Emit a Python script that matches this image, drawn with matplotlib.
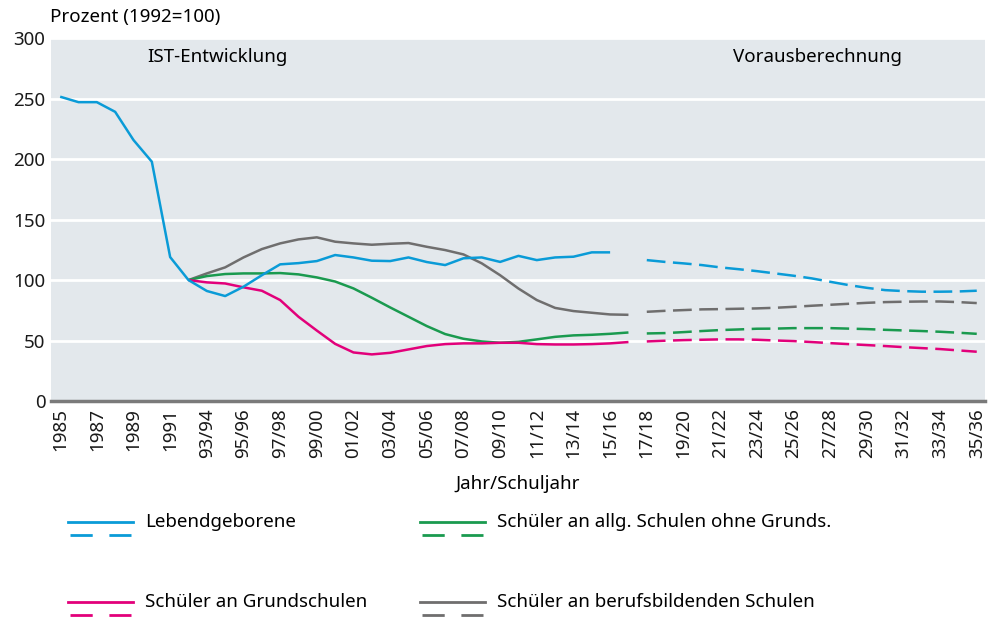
import numpy as np
import matplotlib
matplotlib.use("Agg")
import matplotlib.pyplot as plt
from matplotlib.lines import Line2D

plt.rcParams['font.family'] = ['Noto Sans', 'DejaVu Sans']

# categories: calendar years, then school years
categories = ["1985", "1986", "1987", "1988", "1989", "1990", "1991",
              "92/93", "93/94", "94/95", "95/96", "96/97", "97/98", "98/99",
              "99/00", "00/01", "01/02", "02/03", "03/04", "04/05", "05/06",
              "06/07", "07/08", "08/09", "09/10", "10/11", "11/12", "12/13",
              "13/14", "14/15", "15/16", "16/17", "17/18", "18/19", "19/20",
              "20/21", "21/22", "22/23", "23/24", "24/25", "25/26", "26/27",
              "27/28", "28/29", "29/30", "30/31", "31/32", "32/33", "33/34",
              "34/35", "35/36"]

# actual values (IST)
geb_ist = [251.5, 247, 247, 239, 215.7, 197.8, 119, 100, 91, 86.8, 94.5, 104,
           113, 114, 115.7, 120.7, 118.7, 116, 115.7, 118.7, 114.9, 112.4, 118,
           118.7, 115, 120, 116.5, 118.7, 119.3, 122.9, 122.9]   # 1985 .. 15/16
allg_ist = [100, 103.3, 105, 105.5, 105.5, 105.8, 104.7, 102.2, 98.8, 93.1,
            85.4, 77.4, 69.7, 62, 55.4, 51.5, 49.3, 48.2, 49, 51, 53.1, 54.3,
            54.8, 55.6, 56.7]                                      # 92/93 .. 16/17
grund_ist = [100, 98.1, 97.2, 94, 91.2, 83.5, 69.7, 58.3, 47.3, 40.2, 38.6,
             39.9, 42.7, 45.5, 47.1, 47.7, 47.7, 48.2, 48.2, 47.1, 46.8, 46.8,
             47.1, 47.7, 48.8]
beruf_ist = [100, 105.5, 110.5, 118.7, 125.6, 130.3, 133.6, 135.3, 131.7,
             130.3, 129.2, 130, 130.6, 127.5, 124.8, 121.2, 113.8, 104, 93,
             83.5, 77, 74.4, 73, 71.6, 71.3]

# projection (Vorausberechnung) 17/18 .. 35/36
geb_vb = [116.5, 115, 113.8, 112.4, 110.5, 109, 107.4, 105.5, 103.6, 101.4,
          98.6, 95.9, 93.6, 91.7, 90.9, 90.4, 90.4, 90.6, 91.2]
allg_vb = [55.9, 56.2, 57, 57.9, 58.7, 59.2, 59.8, 59.9, 60.3, 60.3, 60.3,
           59.9, 59.5, 58.9, 58.4, 57.9, 57.3, 56.5, 55.6]
grund_vb = [49.3, 49.9, 50.4, 50.7, 51, 51, 50.7, 50.1, 49.6, 48.8, 47.9,
            47.1, 46.3, 45.5, 44.6, 43.8, 43, 41.9, 40.8]
beruf_vb = [73.8, 74.6, 75.2, 75.8, 76, 76.3, 76.6, 77.1, 77.9, 78.8, 79.6,
            80.4, 81.2, 81.8, 82.1, 82.3, 82.3, 81.8, 81]

labels = ["Lebendgeborene", "Schüler an allg. Schulen ohne Grunds.",
          "Schüler an Grundschulen", "Schüler an berufsbildenden Schulen"]
colors = ["#0a9bd7", "#1a9a4f", "#e2007a", "#6f6e6e"]

x_all = np.arange(len(categories))
i_92 = categories.index("92/93")
i_17 = categories.index("17/18")
fs = 13.5
lw = 1.8

fig = plt.figure(figsize=(10, 6.19), dpi=100)
ax = fig.add_axes([0.051, 0.352, 0.934, 0.5866])
ax.set_facecolor("#e3e8ec")

ist = [geb_ist, allg_ist, grund_ist, beruf_ist]
vb = [geb_vb, allg_vb, grund_vb, beruf_vb]
for k in [3, 1, 2, 0]:
    start = 0 if k == 0 else i_92
    xs = x_all[start:start + len(ist[k])]
    ax.plot(xs, ist[k], color=colors[k], lw=lw, solid_capstyle="butt")
    xv = x_all[i_17:i_17 + len(vb[k])]
    ax.plot(xv, vb[k], color=colors[k], lw=lw, dashes=(7.5, 3))

ax.set_ylim(0, 300)
ax.set_xlim(-0.5, 50.45)
ax.set_yticks(range(0, 301, 50))
ax.yaxis.grid(True, color="white", lw=2)
ax.set_axisbelow(True)
for s in ["top", "right", "left"]:
    ax.spines[s].set_visible(False)
ax.spines["bottom"].set_color("#7a7a7a")
ax.spines["bottom"].set_linewidth(2.5)
ax.tick_params(axis="both", length=0, labelsize=fs, colors="#1a1a1a")
ax.tick_params(axis="y", pad=4)
ax.tick_params(axis="x", pad=5)
ax.set_xticks(x_all[::2])
ax.set_xticklabels(categories[::2], rotation=90)

ax.set_xlabel("Jahr/Schuljahr", fontsize=fs, labelpad=12)
ax.text(8.6, 284, "IST-Entwicklung", ha="center", va="center", fontsize=fs)
ax.text(41.3, 284, "Vorausberechnung", ha="center", va="center", fontsize=fs)
fig.text(0.05, 0.972, "Prozent (1992=100)", ha="left", va="center", fontsize=fs)

# legend: solid over dashed sample per series
leg_pos = [(0.068, 1 - 522 / 619), (0.420, 1 - 522 / 619),
           (0.068, 1 - 602 / 619), (0.420, 1 - 602 / 619)]
for (lx, ly), lab, c in zip(leg_pos, labels, colors):
    fig.add_artist(Line2D([lx, lx + 0.065], [ly, ly], color=c, lw=2,
                          transform=fig.transFigure))
    fig.add_artist(Line2D([lx + 0.002, lx + 0.063], [ly - 0.021, ly - 0.021],
                          color=c, lw=2, dashes=(8, 6),
                          transform=fig.transFigure))
    fig.text(lx + 0.077, ly, lab, ha="left", va="center", fontsize=fs)

fig.savefig("out.png", dpi=100)
